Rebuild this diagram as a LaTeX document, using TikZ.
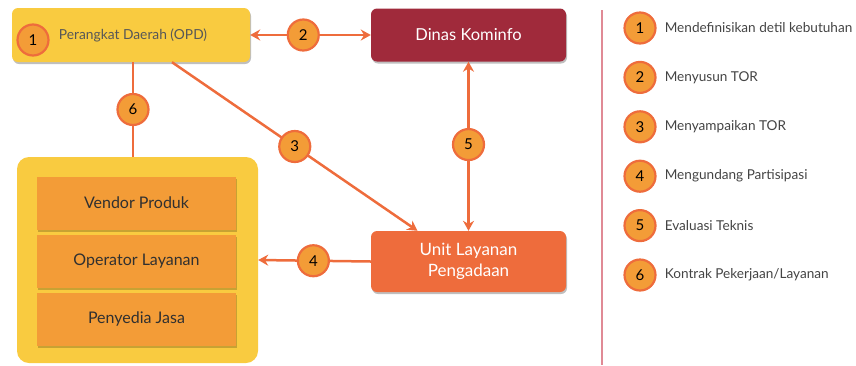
\documentclass[tikz,border=0pt]{standalone}
\usepackage{fontspec}
\setmainfont{Lato}
\usetikzlibrary{arrows.meta,positioning,shadows}
\definecolor{opdyellow}{HTML}{F9CB40}
\definecolor{kominfored}{HTML}{A02A3B}
\definecolor{ulporange}{HTML}{EE6C3C}
\definecolor{boxorange}{HTML}{F39C37}
\definecolor{flowline}{HTML}{EE6C3C}
\definecolor{divider}{HTML}{E08A95}
\definecolor{textgray}{HTML}{444444}

\begin{document}
\begin{tikzpicture}[x=1pt,y=-1pt,
  unitbox/.style={rounded corners=6pt,minimum width=195pt,minimum height=53pt,inner sep=0pt,
    drop shadow={shadow xshift=1pt,shadow yshift=-2pt,opacity=0.25,fill=black}},
  rolebox/.style={fill=boxorange,minimum width=199pt,minimum height=53pt,inner sep=0pt,
    font=\fontsize{16}{18}\selectfont,text=textgray!70!black,
    drop shadow={shadow xshift=1pt,shadow yshift=-2pt,opacity=0.2,fill=black}},
  num/.style={circle,draw=flowline,line width=2.2pt,fill=boxorange,minimum size=31pt,inner sep=0pt,
    font=\fontsize{15}{15}\selectfont,text=black},
  flow/.style={draw=flowline,line width=2.5pt},
  tip/.style={-{Stealth[length=10pt,width=11pt]}},
  bothtip/.style={{Stealth[length=10pt,width=11pt]}-{Stealth[length=10pt,width=11pt]}}]
  \useasboundingbox (0,0) rectangle (856,365);

  % Units
  \node[unitbox,fill=opdyellow,minimum width=238pt,minimum height=54pt,font=\fontsize{13.8}{16}\selectfont,text=textgray!90]
    (opd) at (131,35) {\hspace*{4pt}Perangkat Daerah (OPD)};
  \node[num] (n1) at (33,40) {1};
  \node[unitbox,fill=kominfored,text=white,font=\fontsize{16.5}{18}\selectfont] (komi) at (468.5,35) {Dinas Kominfo};
  \node[unitbox,fill=ulporange,text=white,minimum height=61pt,align=center,font=\fontsize{17}{21}\selectfont]
    (ulp) at (468.5,261.5) {Unit Layanan\\Pengadaan};

  % Penyedia group
  \node[fill=opdyellow,rounded corners=12pt,minimum width=241pt,minimum height=206pt] (group) at (137.5,260) {};
  \foreach \i/\role in {0/Vendor Produk, 1/Operator Layanan, 2/Penyedia Jasa} {
    \node[rolebox] (role\i) at (136.5,203+\i*58.2) {\role};
  }

  % Flows
  \draw[flow,bothtip] (opd.east) -- node[num,pos=0.44] (n2) {2} (komi.west);
  \draw[flow,tip] ([xshift=41pt]opd.south) -- node[num,pos=0.5] (n3) {3} ([xshift=-51pt]ulp.north);
  \draw[flow,bothtip] (komi.south) -- node[num,pos=0.49] (n5) {5} (ulp.north);
  \draw[flow,tip] (ulp.west) -- node[num,pos=0.51] (n4) {4} (group.east);
  \draw[flow] ([xshift=2pt]opd.south) -- node[num,pos=0.5] (n6) {6} ([xshift=2pt]opd.south |- group.north);

  % Legend
  \draw[divider,line width=2.5pt] (602,10) -- (602,365);
  \foreach \i/\step in {1/Mendefinisikan detil kebutuhan, 2/Menyusun TOR, 3/Menyampaikan TOR,
      4/Mengundang Partisipasi, 5/Evaluasi Teknis, 6/{Kontrak Pekerjaan/Layanan}} {
    \node[num] (leg\i) at (640,28+\i*49.4-49.4) {\i};
    \node[right=8pt of leg\i,inner sep=0pt,font=\fontsize{13.6}{15}\selectfont,text=textgray] (legtext\i) {\step};
  }
\end{tikzpicture}
\end{document}
